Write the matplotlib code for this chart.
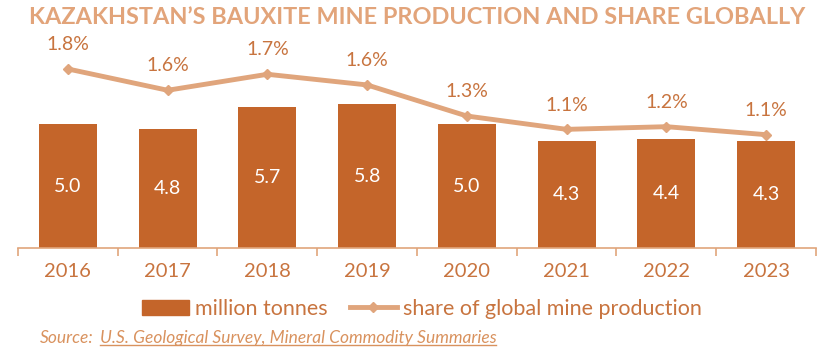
import matplotlib.pyplot as plt
from matplotlib.lines import Line2D
from matplotlib.patches import Patch

years = ['2016', '2017', '2018', '2019', '2020', '2021', '2022', '2023']
production = [5.0, 4.8, 5.7, 5.8, 5.0, 4.3, 4.4, 4.3]
share = [1.80, 1.56, 1.74, 1.62, 1.27, 1.12, 1.15, 1.06]
share_labels = ['1.8%', '1.6%', '1.7%', '1.6%', '1.3%', '1.1%', '1.2%', '1.1%']

bar_color = '#C4652A'
line_color = '#E0A57C'
text_color = '#C8743F'
title_color = '#E2A47A'
src_color = '#D9925E'

plt.rcParams['font.family'] = ['Lato', 'DejaVu Sans']

W, H = 828, 358
fig = plt.figure(figsize=(W / 100, H / 100), dpi=100)
# axes: x from 18 to 816 px, y from 40 to 248 px (top origin)
ax = fig.add_axes([18 / W, (H - 248) / H, (816 - 18) / W, (248 - 40) / H])
ax2 = ax.twinx()

x = list(range(len(years)))
ax.bar(x, production, width=0.58, color=bar_color, zorder=2)
for xi, v in zip(x, production):
    ax.text(xi, v / 2, f'{v:.1f}', ha='center', va='center', color='white', fontsize=14)

ax.set_xlim(-0.5, len(years) - 0.5)
ax.set_ylim(0, 8.39)
ax.set_yticks([])
for side in ['top', 'left', 'right']:
    ax.spines[side].set_visible(False)
ax.spines['bottom'].set_color(line_color)
ax.spines['bottom'].set_linewidth(1.2)
ax.set_xticks([i - 0.5 for i in range(len(years) + 1)])
ax.set_xticklabels([])
ax.tick_params(axis='x', length=6, color=line_color, width=1.2)
for xi, yr in zip(x, years):
    ax.text(xi, -0.95, yr, ha='center', va='center', color=text_color, fontsize=14.5)

ax2.plot(x, share, color=line_color, lw=3.5, marker='D', ms=5.5, zorder=3)
ax2.set_ylim(-0.216, 2.126)
ax2.set_yticks([])
for side in ['top', 'left', 'right', 'bottom']:
    ax2.spines[side].set_visible(False)
for xi, v, lab in zip(x, share, share_labels):
    ax2.annotate(lab, (xi, v), xytext=(0, 17.5), textcoords='offset points',
                 ha='center', va='center', color=text_color, fontsize=14)

title = fig.text(417 / W, 1 - 18 / H,
                 'KAZAKHSTAN\u2019S BAUXITE MINE PRODUCTION AND SHARE GLOBALLY',
                 ha='center', va='center', color=title_color, fontsize=15,
                 fontweight='bold')

handles = [Patch(color=bar_color, label='million tonnes'),
           Line2D([0], [0], color=line_color, lw=3.5, marker='D', ms=5.5,
                  label='share of global mine production')]
leg = fig.legend(handles=handles, loc='center', bbox_to_anchor=(422 / W, 1 - 309 / H),
                 ncol=2, frameon=False, fontsize=15.5, handlelength=2.2,
                 columnspacing=1.0, handletextpad=0.3)
for t in leg.get_texts():
    t.set_color(text_color)

src_a = fig.text(40 / W, 1 - 338 / H, 'Source:', ha='left', va='center', color=src_color,
                 fontsize=12.5, style='italic')
fig.canvas.draw()
# stretch the title to the width of the reference heading
tb = title.get_window_extent()
title.set_fontsize(15 * 775 / tb.width)
ab = src_a.get_window_extent()
src = fig.text((ab.x1 + 6) / W, 1 - 338 / H,
               'U.S. Geological Survey, Mineral Commodity Summaries',
               ha='left', va='center', color=src_color, fontsize=12.5, style='italic')
fig.canvas.draw()
bb = src.get_window_extent()
fig.add_artist(Line2D([bb.x0 / W, bb.x1 / W], [(bb.y0 + 1) / H, (bb.y0 + 1) / H],
                      color=src_color, lw=1))

fig.savefig('out.png', dpi=100)
